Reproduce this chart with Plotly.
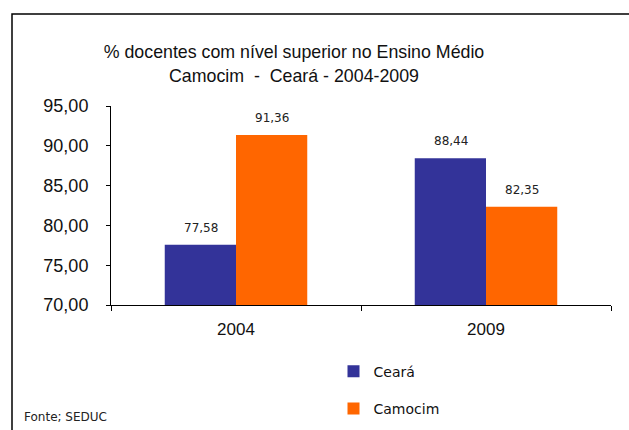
import plotly.graph_objects as go

years = ["2004", "2009"]
ceara = [77.58, 88.44]
camocim = [91.36, 82.35]
y_ticks = [70, 75, 80, 85, 90, 95]

COLORS = {"Ceará": "#333399", "Camocim": "#FF6600"}


def fmt(v):
    return f"{v:.2f}".replace(".", ",")


fig = go.Figure()
for name, vals in [("Ceará", ceara), ("Camocim", camocim)]:
    fig.add_trace(
        go.Bar(
            x=years,
            y=vals,
            name=name,
            legendgroup=name,
            marker=dict(color=COLORS[name], line=dict(width=0)),
            hoverinfo="x+y",
        )
    )

# data labels above each bar (category index, since the labels look numeric)
annotations = []
for vals, shift in [(ceara, -35.5), (camocim, 35.5)]:
    for i, v in enumerate(vals):
        annotations.append(
            dict(
                x=i, y=v, xref="x", yref="y", text=fmt(v), showarrow=False,
                xshift=shift, yshift=17, yanchor="middle",
                font=dict(family="DejaVu Sans", size=12, color="#222222"),
            )
        )
annotations.append(
    dict(
        x=-0.178, y=-0.563, xref="paper", yref="paper", text="Fonte; SEDUC",
        showarrow=False, xanchor="left", yanchor="middle",
        font=dict(family="DejaVu Sans", size=12, color="#222222"),
    )
)

fig.update_layout(
    width=629,
    height=430,
    margin=dict(l=111, r=18, t=106, b=125, autoexpand=False),
    paper_bgcolor="white",
    plot_bgcolor="white",
    separators=",.",
    barmode="group",
    bargap=0.43,
    bargroupgap=0,
    title=dict(
        text="% docentes com nível superior no Ensino Médio<br>Camocim \u00a0- \u00a0Ceará - 2004-2009",
        x=0.366, xref="paper", xanchor="center",
        y=0.864, yref="container", yanchor="top",
        font=dict(family="Liberation Sans", size=17.8, color="#111111"),
    ),
    legend=dict(
        x=0.445, y=-0.255, xanchor="left", yanchor="top",
        orientation="v", traceorder="grouped", tracegroupgap=16,
        font=dict(family="DejaVu Sans", size=14, color="#111111"),
        bgcolor="rgba(0,0,0,0)",
    ),
    annotations=annotations,
    shapes=[
        dict(
            type="rect", xref="paper", yref="paper",
            x0=-0.198, x1=1.1, y0=-0.7, y1=1.4623,
            line=dict(color="black", width=1.5), fillcolor="rgba(0,0,0,0)",
            layer="below",
        )
    ],
    showlegend=True,
)

fig.update_xaxes(
    type="category", range=[-0.5, 1.5],
    showline=True, linecolor="black", linewidth=1,
    ticks="outside", tickson="boundaries", ticklen=5, tickcolor="black",
    showgrid=False,
    ticklabelstandoff=9,
    tickfont=dict(family="Liberation Sans", size=17, color="#111111"),
)
fig.update_yaxes(
    range=[70, 95], tickvals=y_ticks, tickformat=".2f",
    showline=True, linecolor="black", linewidth=1,
    ticks="outside", ticklen=4, tickcolor="black",
    showgrid=False, zeroline=False,
    ticklabelstandoff=14,
    tickfont=dict(family="Liberation Sans", size=18, color="#111111"),
)

fig.write_html(
    "out.html",
    config={"displayModeBar": False},
    post_script="document.body.style.margin='0';",
)
